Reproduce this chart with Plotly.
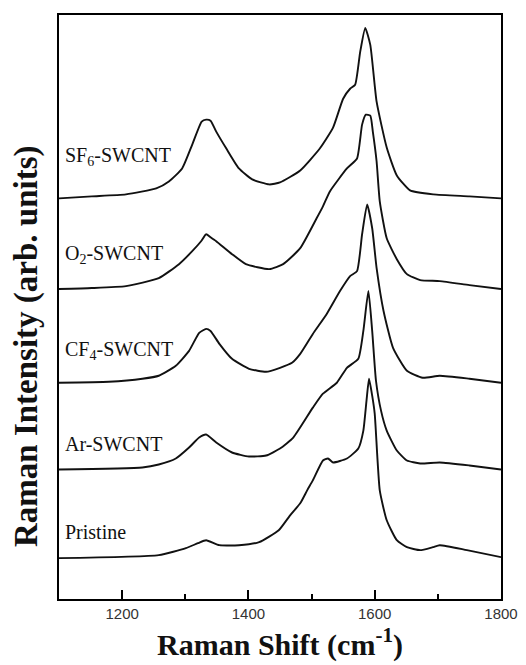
import plotly.graph_objects as go

# Raman shift (cm^-1) and intensity (arb. units, offset stacked) per sample
sf6_x = [1100, 1152, 1206, 1254, 1274, 1295, 1311, 1326, 1333, 1340, 1349, 1365, 1385, 1406, 1433,
         1450, 1482, 1513, 1534, 1550, 1561, 1569, 1577, 1585, 1593, 1603, 1619, 1635, 1656, 1693, 1750, 1800]
sf6_y = [402, 404, 406, 412, 419, 432, 456, 479, 481, 480, 469, 452, 432, 421, 416,
         418, 430, 452, 473, 502, 512, 516, 549, 573, 556, 499, 453, 425, 410, 406, 404, 402]

o2_x = [1100, 1152, 1206, 1258, 1290, 1311, 1325, 1333, 1340, 1349, 1374, 1396, 1433, 1455, 1482,
        1508, 1518, 1529, 1556, 1572, 1580, 1586, 1593, 1597, 1603, 1608, 1619, 1635, 1651, 1672, 1703, 1750, 1800]
o2_y = [311, 312, 314, 322, 336, 349, 359, 366, 363, 359, 346, 336, 331, 336, 352,
        382, 394, 409, 432, 442, 476, 486, 485, 469, 439, 399, 362, 341, 326, 320, 319, 315, 311]

cf4_x = [1100, 1179, 1232, 1258, 1285, 1306, 1322, 1333, 1340, 1354, 1374, 1401, 1428, 1450, 1469,
         1482, 1502, 1524, 1545, 1561, 1572, 1580, 1588, 1596, 1603, 1614, 1629, 1651, 1676, 1703, 1750, 1800]
cf4_y = [217, 218, 221, 224, 234, 249, 267, 271, 269, 256, 241, 231, 228, 232, 237,
         246, 266, 286, 309, 324, 329, 366, 396, 372, 332, 289, 252, 229, 222, 224, 221, 217]

ar_x = [1100, 1232, 1258, 1285, 1306, 1322, 1333, 1349, 1374, 1401, 1428, 1450, 1471, 1502, 1518,
        1540, 1556, 1574, 1582, 1590, 1596, 1602, 1610, 1619, 1635, 1651, 1672, 1703, 1750, 1800]
ar_y = [130, 132, 135, 141, 152, 162, 165, 157, 147, 143, 144, 151, 162, 192, 206,
        217, 232, 241, 269, 309, 269, 219, 189, 169, 149, 139, 136, 137, 134, 130]

pr_x = [1100, 1258, 1301, 1320, 1333, 1354, 1385, 1417, 1448, 1466, 1482, 1493, 1502, 1518, 1526,
        1534, 1556, 1574, 1582, 1587, 1591, 1596, 1600, 1608, 1619, 1635, 1651, 1672, 1692, 1703, 1746, 1800]
pr_y = [41, 44, 51, 56, 59, 54, 54, 57, 69, 84, 96, 109, 119, 139, 141,
        137, 141, 151, 169, 199, 221, 204, 186, 109, 79, 59, 52, 49, 52, 54, 49, 42]

labels = ["SF<sub>6</sub>-SWCNT", "O<sub>2</sub>-SWCNT", "CF<sub>4</sub>-SWCNT", "Ar-SWCNT", "Pristine"]
label_y = [444, 346, 249, 156, 67]

x_ticks = [1200, 1400, 1600, 1800]

fig = go.Figure()
for xs, ys in [(sf6_x, sf6_y), (o2_x, o2_y), (cf4_x, cf4_y), (ar_x, ar_y), (pr_x, pr_y)]:
    fig.add_trace(go.Scatter(x=xs, y=ys, mode="lines",
                             line=dict(color="#111111", width=1.9, shape="spline", smoothing=0.5),
                             showlegend=False, hoverinfo="skip"))

for txt, ly in zip(labels, label_y):
    fig.add_annotation(x=0.008, xref="paper", y=ly, yref="y", text=txt, showarrow=False,
                       xanchor="left", yanchor="middle",
                       font=dict(family="Liberation Serif", size=20, color="#111111"))

fig.add_annotation(x=-0.072, xref="paper", y=(599 - 345) / 586, yref="paper",
                   text="<b>Raman Intensity (arb. units)</b>", textangle=-90, showarrow=False,
                   xanchor="center", yanchor="middle",
                   font=dict(family="Liberation Serif", size=33, color="#111111"))

# page body has an 8px margin, so the figure is sized and offset to compensate
fig.update_layout(
    width=518, height=657,
    margin=dict(l=51, r=25, t=5, b=66),
    paper_bgcolor="white", plot_bgcolor="white",
    xaxis=dict(range=[1100, 1800], tickvals=x_ticks, ticktext=[str(v) for v in x_ticks],
               ticks="inside", ticklen=9, tickwidth=1.5, tickcolor="black",
               minor=dict(tickvals=[1300, 1500, 1700], ticks="inside", ticklen=5, tickwidth=1.5, tickcolor="black"),
               showline=True, linecolor="black", linewidth=1.8, mirror=True,
               showgrid=False, zeroline=False,
               tickfont=dict(family="Liberation Sans", size=15, color="#333333"),
               title=dict(text="<b>Raman Shift (cm<sup>-1</sup>)</b>",
                          font=dict(family="Liberation Serif", size=30, color="#111111"), standoff=13)),
    yaxis=dict(range=[0, 586], showticklabels=False, ticks="", showgrid=False, zeroline=False,
               showline=True, linecolor="black", linewidth=1.8, mirror=True),
)

fig.write_html("out.html")
